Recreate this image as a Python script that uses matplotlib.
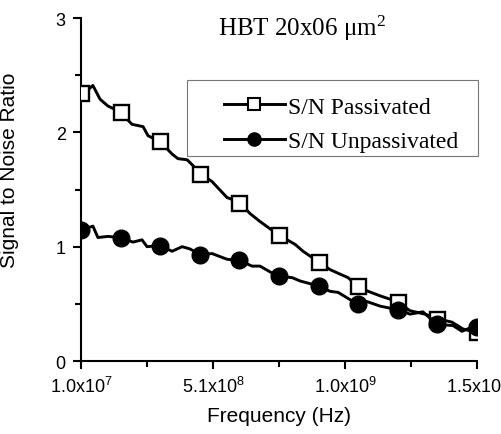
import matplotlib

matplotlib.use("Agg")
import matplotlib.pyplot as plt
from matplotlib.lines import Line2D
from matplotlib.patches import Rectangle
import numpy as np

# frequency in units of 1e8 Hz
PASS_F = [0.10, 0.21, 0.55, 0.82, 1.12, 1.58, 2.03, 2.45, 2.64, 3.09, 3.55, 3.77,
          4.12, 4.34, 4.61, 5.06, 5.63, 6.09, 6.50, 6.88, 7.60, 8.21, 8.51, 9.08,
          9.53, 9.91, 10.21, 10.55, 10.97, 11.43, 12.07, 12.56, 13.13, 13.59,
          14.15, 14.57, 14.91, 15.10]
PASS_SN = [2.33, 2.34, 2.41, 2.29, 2.23, 2.18, 2.07, 2.05, 1.97, 1.92, 1.81, 1.77,
           1.76, 1.71, 1.64, 1.57, 1.43, 1.39, 1.29, 1.22, 1.10, 1.02, 0.96, 0.87,
           0.80, 0.76, 0.73, 0.66, 0.61, 0.57, 0.52, 0.44, 0.41, 0.37,
           0.34, 0.28, 0.26, 0.25]

UNPASS_F = [0.10, 0.18, 0.55, 0.74, 1.12, 1.58, 2.07, 2.41, 2.60, 3.09, 3.55, 3.93,
            4.23, 4.61, 5.06, 5.63, 6.09, 6.58, 6.88, 7.56, 8.09, 8.40, 9.04, 9.53,
            9.84, 10.55, 10.93, 11.43, 12.07, 12.56, 13.05, 13.59, 14.19, 14.53,
            14.95, 15.10]
UNPASS_SN = [1.14, 1.15, 1.18, 1.08, 1.09, 1.08, 1.04, 1.06, 1.00, 1.01, 0.96, 1.00,
             0.98, 0.93, 0.94, 0.89, 0.88, 0.83, 0.83, 0.74, 0.73, 0.70, 0.66, 0.61,
             0.60, 0.50, 0.52, 0.48, 0.45, 0.41, 0.43, 0.32, 0.31, 0.26,
             0.30, 0.30]

# marker positions (every 1.5e8 Hz)
MARK_F = [0.1, 1.6, 3.1, 4.6, 6.1, 7.6, 9.1, 10.6, 12.1, 13.6, 15.1]
PASS_MARK = [2.34, 2.18, 1.92, 1.64, 1.38, 1.10, 0.87, 0.66, 0.52, 0.37, 0.25]
UNPASS_MARK = [1.15, 1.08, 1.01, 0.93, 0.88, 0.74, 0.66, 0.50, 0.45, 0.32, 0.30]

X_TICKS = [0.1, 5.1, 10.1, 15.1]
X_MINOR = [2.6, 7.6, 12.6]
X_TICK_LABELS = [r"1.0x10$^{7}$", r"5.1x10$^{8}$", r"1.0x10$^{9}$", r"1.5x10$^{9}$"]

plt.rcParams.update({
    "font.family": ["Liberation Sans", "DejaVu Sans"],
    "mathtext.default": "regular",
})

SERIF = ["Liberation Serif", "DejaVu Serif"]

fig = plt.figure(figsize=(5.02, 4.35), dpi=100)
ax = fig.add_axes([0.1614, 0.1678, 0.7888, 0.7885])

scale = 1e8
ax.plot(np.array(PASS_F) * scale, PASS_SN, color="black", lw=2.1, zorder=2)
ax.plot(np.array(MARK_F) * scale, PASS_MARK, ls="none", marker="s", ms=10.8,
        mfc="white", mec="black", mew=1.7, zorder=3)
ax.plot(np.array(UNPASS_F) * scale, UNPASS_SN, color="black", lw=2.1, zorder=4)
ax.plot(np.array(MARK_F) * scale, UNPASS_MARK, ls="none", marker="o", ms=12,
        mfc="black", mec="black", zorder=5)

ax.set_xlim(0.1 * scale, 15.1 * scale)
ax.set_ylim(0, 3)
ax.set_xticks(np.array(X_TICKS) * scale, X_TICK_LABELS)
ax.set_xticks(np.array(X_MINOR) * scale, minor=True)
ax.set_yticks([0, 1, 2, 3])
ax.set_yticks([0.5, 1.5, 2.5], minor=True)
ax.tick_params(which="major", direction="out", length=6, width=1.5, labelsize=13, pad=5)
ax.tick_params(which="minor", direction="out", length=4, width=1.5)

for side in ("top", "right"):
    ax.spines[side].set_visible(False)
for side in ("left", "bottom"):
    ax.spines[side].set_linewidth(1.5)

ax.set_xlabel("Frequency (Hz)", fontsize=15, labelpad=7)
ax.set_ylabel("Signal to Noise Ratio", fontsize=15)
ax.yaxis.set_label_coords(-0.157, 0.56)

ax.text(0.558, 0.972, r"HBT 20x06 μm$^{2}$", transform=ax.transAxes,
        ha="center", va="center", fontsize=18, family=SERIF)

# legend box
fig.add_artist(Rectangle((0.3725, 0.6391), 0.5797, 0.1747, transform=fig.transFigure,
                         facecolor="white", edgecolor="#777777", lw=0.8, zorder=6))
handles = [
    Line2D([], [], color="black", lw=2.1, marker="s", ms=8.5, mfc="white", mec="black", mew=1.5),
    Line2D([], [], color="black", lw=2.1, marker="o", ms=9.5, mfc="black", mec="black"),
]
leg = fig.legend(handles, ["S/N Passivated", "S/N Unpassivated"], loc="center left",
                 bbox_to_anchor=(0.4223, 0.7126), frameon=False, borderpad=0,
                 handlelength=2.6, handletextpad=0.12, labelspacing=0.55,
                 prop={"family": SERIF, "size": 17})
leg.set_zorder(7)

fig.savefig("out.png", dpi=100)
